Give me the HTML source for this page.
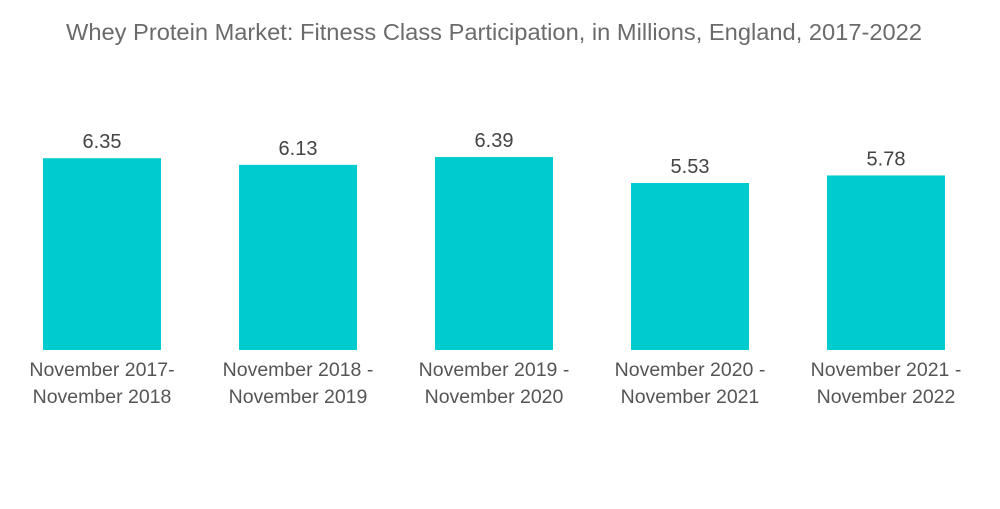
<!DOCTYPE html>
<html><head><meta charset="utf-8"><style>
body{margin:0;background:#fff;font-family:"Liberation Sans",sans-serif;}
svg text{font-family:"Liberation Sans",sans-serif;}
</style></head><body>
<svg width="1000" height="504">
<text x="494" y="40" text-anchor="middle" font-size="23" textLength="856" lengthAdjust="spacingAndGlyphs" fill="#6b6b6b">Whey Protein Market: Fitness Class Participation, in Millions, England, 2017-2022</text>
<g id="bars"></g>
</svg>
<script>
const categories1=["November 2017-","November 2018 -","November 2019 -","November 2020 -","November 2021 -"];
const categories2=["November 2018","November 2019","November 2020","November 2021","November 2022"];
const values=[6.35,6.13,6.39,5.53,5.78];
const labels=["6.35","6.13","6.39","5.53","5.78"];
const ns="http://www.w3.org/2000/svg";
const g=document.getElementById('bars');
const base=350,scale=30.2,x0=43,step=196,bw=118;
function y(v){return base-v*scale;}
function xc(i){return x0+i*step;}
values.forEach((v,i)=>{
 const r=document.createElementNS(ns,'rect');
 r.setAttribute('x',xc(i));r.setAttribute('y',y(v));r.setAttribute('width',bw);r.setAttribute('height',base-y(v));r.setAttribute('fill','#00ccd0');
 
 
 g.appendChild(r);
 const t=document.createElementNS(ns,'text');
 t.setAttribute('x',xc(i)+bw/2);t.setAttribute('y',y(v)-10);t.setAttribute('text-anchor','middle');t.setAttribute('font-size','20');t.setAttribute('fill','#444');
 t.textContent=labels[i];
 
 
 g.appendChild(t);
 [categories1[i],categories2[i]].forEach((s,k)=>{
  const c=document.createElementNS(ns,'text');
  c.setAttribute('x',xc(i)+bw/2);c.setAttribute('y',376+k*27);c.setAttribute('text-anchor','middle');c.setAttribute('font-size','19.5');c.setAttribute('fill','#555');
  c.textContent=s;
  
  
  g.appendChild(c);
 });
});
</script>
</body></html>
